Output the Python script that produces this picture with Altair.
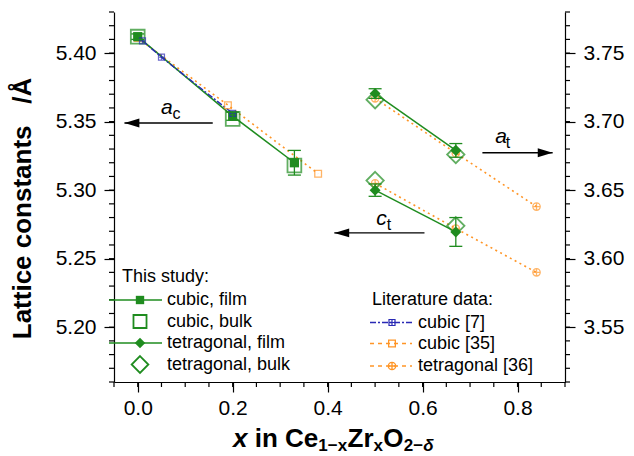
import altair as alt
import pandas as pd

# ---------------- data ----------------
# left axis: cubic a_c and tetragonal c_t (Å); right axis: tetragonal a_t (Å)
cubic_film_x = [0.0, 0.2, 0.33]
cubic_film_y = [5.412, 5.354, 5.320]
cubic_film_err = [0.002, 0.003, 0.009]
cubic_bulk_x = [0.0, 0.2, 0.33]
cubic_bulk_y = [5.412, 5.352, 5.318]
lit7_x = [0.01, 0.05, 0.2]
lit7_y = [5.409, 5.397, 5.356]
lit35_x = [0.0, 0.19, 0.38]
lit35_y = [5.411, 5.362, 5.312]
tet_x = [0.5, 0.67]
tet_film_c = [5.300, 5.2695]
tet_film_c_err = [0.0045, 0.0105]
tet_film_a = [3.7205, 3.679]
tet_film_a_err = [0.0035, 0.005]
tet_bulk_c = [5.307, 5.274]
tet_bulk_a = [3.716, 3.676]
lit36_x = [0.5, 0.67, 0.84]
lit36_c = [5.305, 5.272, 5.240]
lit36_a = [3.717, 3.677, 3.638]

x_ticks = [0.0, 0.2, 0.4, 0.6, 0.8]
left_ticks = [5.20, 5.25, 5.30, 5.35, 5.40]
right_ticks = [3.55, 3.60, 3.65, 3.70, 3.75]
x_minor = [round(-0.05 + 0.05 * i, 3) for i in range(20)]
left_minor = [round(5.16 + 0.01 * i, 3) for i in range(28)]
right_minor = [round(3.51 + 0.01 * i, 3) for i in range(28)]

# annotation arrows (data units) and labels
ac_arrow = {"x0": [0.158], "x1": [-0.028], "y": [5.349]}
ct_arrow = {"x0": [0.604], "x1": [0.414], "y": [5.2688]}
at_arrow = {"x0": [0.726], "x1": [0.874], "y": [3.6773]}
ac_label = {"x": [0.049], "y": [5.360], "main": ["a"], "sub": ["c"]}
ct_label = {"x": [0.5025], "y": [5.2786], "main": ["c"], "sub": ["t"]}
at_label = {"x": [0.753], "y": [3.6886], "main": ["a"], "sub": ["t"]}

# ---------------- styling ----------------
FONT = "Liberation Sans"
G = "#1f8c1f"
O = "#ff9526"
B = "#2a2ab5"
W, H = 451, 370

SQ_PLUS = "M-1,-1H1V1H-1Z M0,-1V1 M-1,0H1"
CIRC_PLUS = "M1,0A1,1 0 1,1 -1,0A1,1 0 1,1 1,0Z M0,-1V1 M-1,0H1"
DIAM = "M0,-1L1,0L0,1L-1,0Z"
ARROW_L = "M-1,0L1,-0.6L1,0.6Z"
ARROW_R = "M1,0L-1,-0.6L-1,0.6Z"

XS = alt.Scale(domain=[-0.05, 0.9], nice=False, zero=False)
YLS = alt.Scale(domain=[5.16, 5.43], nice=False, zero=False)
YRS = alt.Scale(domain=[3.51, 3.78], nice=False, zero=False)

common_axis = dict(grid=False, labelFont=FONT, labelFontSize=21, labelColor="black",
                   tickColor="black", tickSize=10, tickWidth=1.2,
                   domainColor="black", domainWidth=1.2, title="")
x_axis = alt.Axis(values=x_ticks, format=".1f", labelPadding=5, **common_axis)
yl_axis = alt.Axis(values=left_ticks, format=".2f", orient="left", labelPadding=8, **common_axis)
yr_axis = alt.Axis(values=right_ticks, format=".2f", orient="right", labelPadding=8, **common_axis)


def X(f):
    return alt.X(f, type="quantitative", scale=XS, axis=x_axis)


def YL(f):
    return alt.Y(f, type="quantitative", scale=YLS, axis=yl_axis)


def YR(f):
    return alt.Y(f, type="quantitative", scale=YRS, axis=yr_axis)


def df(**kw):
    return pd.DataFrame(kw)


dummy = pd.DataFrame({"d": [0]})

# ---------------- left-axis layers ----------------
left = []
# literature lines
left.append(alt.Chart(df(x=lit35_x, y=lit35_y)).mark_line(color=O, strokeDash=[2, 3.5], strokeWidth=1.6)
            .encode(x=X("x"), y=YL("y")))
left.append(alt.Chart(df(x=lit36_x, y=lit36_c)).mark_line(color=O, strokeDash=[2, 3.5], strokeWidth=1.6)
            .encode(x=X("x"), y=YL("y")))
# this study lines
left.append(alt.Chart(df(x=cubic_film_x, y=cubic_film_y)).mark_line(color=G, strokeWidth=1.5)
            .encode(x=X("x"), y=YL("y")))
left.append(alt.Chart(df(x=tet_x, y=tet_film_c)).mark_line(color=G, strokeWidth=1.5)
            .encode(x=X("x"), y=YL("y")))
left.append(alt.Chart(df(x=lit7_x, y=lit7_y)).mark_line(color=B, strokeDash=[6, 2, 2, 2], strokeWidth=1.4)
            .encode(x=X("x"), y=YL("y")))
# markers
left.append(alt.Chart(df(x=lit35_x, y=lit35_y)).mark_point(shape="square", size=45, filled=False, color=O, strokeWidth=1.3)
            .encode(x=X("x"), y=YL("y")))
left.append(alt.Chart(df(x=lit36_x, y=lit36_c)).mark_point(shape=CIRC_PLUS, size=55, filled=False, color=O, strokeWidth=1.3)
            .encode(x=X("x"), y=YL("y")))
left.append(alt.Chart(df(x=cubic_bulk_x, y=cubic_bulk_y)).mark_point(shape="square", size=190, filled=False, color=G, strokeWidth=1.8)
            .encode(x=X("x"), y=YL("y")))
left.append(alt.Chart(df(x=tet_x, y=tet_bulk_c)).mark_point(shape=DIAM, size=300, filled=False, color=G, strokeWidth=1.8)
            .encode(x=X("x"), y=YL("y")))
left.append(alt.Chart(df(x=cubic_film_x, y=cubic_film_y)).mark_point(shape="square", size=85, filled=True, color=G, opacity=1)
            .encode(x=X("x"), y=YL("y")))
left.append(alt.Chart(df(x=tet_x, y=tet_film_c)).mark_point(shape=DIAM, size=120, filled=True, color=G, opacity=1)
            .encode(x=X("x"), y=YL("y")))
left.append(alt.Chart(df(x=lit7_x, y=lit7_y)).mark_point(shape=SQ_PLUS, size=36, filled=False, color=B, strokeWidth=1.2)
            .encode(x=X("x"), y=YL("y")))
# error bars (film)
for xs, ys, es in [(cubic_film_x, cubic_film_y, cubic_film_err), (tet_x, tet_film_c, tet_film_c_err)]:
    e = pd.DataFrame({"x": xs, "y": ys, "e": es})
    base = alt.Chart(e).transform_calculate(lo="datum.y - datum.e", hi="datum.y + datum.e")
    left.append(base.mark_rule(color=G, strokeWidth=1.3).encode(x=X("x"), y=YL("lo:Q"), y2="hi:Q"))
    left.append(base.mark_rule(color=G, strokeWidth=1.3, xOffset=-6.5, x2Offset=6.5)
                .encode(x=X("x"), x2="x", y=YL("lo:Q")))
    left.append(base.mark_rule(color=G, strokeWidth=1.3, xOffset=-6.5, x2Offset=6.5)
                .encode(x=X("x"), x2="x", y=YL("hi:Q")))
# minor ticks
left.append(alt.Chart(df(v=left_minor)).mark_rule(color="black", strokeWidth=1.2)
            .encode(y=YL("v"), x=alt.value(0), x2=alt.value(-5)))
left.append(alt.Chart(df(v=x_minor)).mark_rule(color="black", strokeWidth=1.2)
            .encode(x=X("v"), y=alt.value(H), y2=alt.value(H + 5)))


# arrows + labels
def arrow(d, yenc, path, off):
    dd = pd.DataFrame(d)
    r = alt.Chart(dd).mark_rule(color="black", strokeWidth=1.4).encode(x=X("x0"), x2="x1", y=yenc("y"))
    h = alt.Chart(dd).mark_point(shape=path, size=220, filled=True, color="black", opacity=1, xOffset=off) \
        .encode(x=X("x1"), y=yenc("y"))
    return [r, h]


def sublabel(d, yenc, dx):
    dd = pd.DataFrame(d)
    m = alt.Chart(dd).mark_text(font=FONT, fontSize=21, fontStyle="italic", align="left", baseline="middle",
                                color="black").encode(x=X("x"), y=yenc("y"), text="main:N")
    s = alt.Chart(dd).mark_text(font=FONT, fontSize=16, align="left", baseline="middle", dx=dx, dy=6,
                                color="black").encode(x=X("x"), y=yenc("y"), text="sub:N")
    return [m, s]


left += arrow(ac_arrow, YL, ARROW_L, 7.5)
left += arrow(ct_arrow, YL, ARROW_L, 7.5)
left += sublabel(ac_label, YL, 11.5)
left += sublabel(ct_label, YL, 10.5)


# ---------------- legends (pixel layout) ----------------
def txt(x, y, s, size=18, **kw):
    return alt.Chart(dummy).mark_text(font=FONT, fontSize=size, align="left", baseline="middle", color="black", **kw) \
        .encode(x=alt.value(x), y=alt.value(y), text=alt.value(s))


def leg_row(y, label, color, shape, size, filled, line, dash, lx0, lx1, mx, tx, sw=1.6):
    out = []
    if line:
        kw = {"strokeDash": dash} if dash else {}
        out.append(alt.Chart(dummy).mark_rule(color=color, strokeWidth=1.5, **kw)
                   .encode(x=alt.value(lx0), x2=alt.value(lx1), y=alt.value(y)))
    out.append(alt.Chart(dummy).mark_point(shape=shape, size=size, filled=filled, color=color, opacity=1,
                                           strokeWidth=sw)
               .encode(x=alt.value(mx), y=alt.value(y)))
    out.append(txt(tx, y, label))
    return out


legend = [txt(8, 265, "This study:")]
legend += leg_row(288, "cubic, film", G, "square", 70, True, True, None, -5, 48, 26, 53)
legend += leg_row(309.5, "cubic, bulk", G, "square", 170, False, False, None, 0, 0, 26, 53, 1.8)
legend += leg_row(331, "tetragonal, film", G, DIAM, 110, True, True, None, -5, 48, 26, 53)
legend += leg_row(352.5, "tetragonal, bulk", G, DIAM, 280, False, False, None, 0, 0, 26, 53, 1.8)
legend += [txt(258, 288, "Literature data:")]
legend += leg_row(310.5, "cubic [7]", B, SQ_PLUS, 36, False, True, [6, 2, 2, 2], 256, 298, 278, 304, 1.2)
legend += leg_row(331.5, "cubic [35]", O, "square", 45, False, True, [4, 4], 256, 298, 278, 304, 1.3)
legend += leg_row(354, "tetragonal [36]", O, CIRC_PLUS, 55, False, True, [4, 4], 256, 298, 278, 304, 1.3)

# axis titles (pixel layout)
titles = []
titles.append(alt.Chart(dummy).mark_text(font=FONT, fontSize=26, fontWeight="bold", angle=270, align="center",
                                         baseline="middle", color="black")
              .encode(x=alt.value(-91), y=alt.value(196.5), text=alt.value("Lattice constants\u00a0\u00a0\u00a0/Å")))
xt_parts = [
    ("x", 26, "italic", 119.0, 0),
    ("in Ce", 26, "normal", 140.7, 0),
    ("1\u2212x", 17, "normal", 204.3, 4),
    ("Zr", 26, "normal", 233.6, 0),
    ("x", 17, "normal", 259.6, 4),
    ("O", 26, "normal", 269.3, 0),
    ("2\u2212", 17, "normal", 289.8, 4),
    ("\u03b4", 17, "italic", 309.2, 4),
]
for s, fs, st, px, dy in xt_parts:
    titles.append(alt.Chart(dummy).mark_text(font=FONT, fontSize=fs, fontWeight="bold", fontStyle=st, align="left",
                                             baseline="alphabetic", color="black")
                  .encode(x=alt.value(px), y=alt.value(435 + dy), text=alt.value(s)))

left_group = alt.layer(*(left + legend + titles))

# ---------------- right-axis layers ----------------
right = []
right.append(alt.Chart(df(x=lit36_x, y=lit36_a)).mark_line(color=O, strokeDash=[2, 3.5], strokeWidth=1.6)
             .encode(x=X("x"), y=YR("y")))
right.append(alt.Chart(df(x=tet_x, y=tet_film_a)).mark_line(color=G, strokeWidth=1.5)
             .encode(x=X("x"), y=YR("y")))
right.append(alt.Chart(df(x=lit36_x, y=lit36_a)).mark_point(shape=CIRC_PLUS, size=55, filled=False, color=O, strokeWidth=1.3)
             .encode(x=X("x"), y=YR("y")))
right.append(alt.Chart(df(x=tet_x, y=tet_bulk_a)).mark_point(shape=DIAM, size=300, filled=False, color=G, strokeWidth=1.8)
             .encode(x=X("x"), y=YR("y")))
right.append(alt.Chart(df(x=tet_x, y=tet_film_a)).mark_point(shape=DIAM, size=120, filled=True, color=G, opacity=1)
             .encode(x=X("x"), y=YR("y")))
ea = pd.DataFrame({"x": tet_x, "y": tet_film_a, "e": tet_film_a_err})
base = alt.Chart(ea).transform_calculate(lo="datum.y - datum.e", hi="datum.y + datum.e")
right.append(base.mark_rule(color=G, strokeWidth=1.3).encode(x=X("x"), y=YR("lo:Q"), y2="hi:Q"))
right.append(base.mark_rule(color=G, strokeWidth=1.3, xOffset=-6.5, x2Offset=6.5)
             .encode(x=X("x"), x2="x", y=YR("lo:Q")))
right.append(base.mark_rule(color=G, strokeWidth=1.3, xOffset=-6.5, x2Offset=6.5)
             .encode(x=X("x"), x2="x", y=YR("hi:Q")))
right.append(alt.Chart(df(v=right_minor)).mark_rule(color="black", strokeWidth=1.2)
             .encode(y=YR("v"), x=alt.value(W), x2=alt.value(W + 5)))
right += arrow(at_arrow, YR, ARROW_R, -7.5)
right += sublabel(at_label, YR, 10.5)

right_group = alt.layer(*right)

chart = alt.layer(left_group, right_group).resolve_scale(y="independent").properties(
    width=W, height=H,
    padding={"left": 114, "top": 12, "right": 69, "bottom": 74},
    autosize=alt.AutoSizeParams(type="none"),
    background="white",
).configure_view(stroke=None)

chart.save("out.html", embed_options={"renderer": "svg", "actions": False})
